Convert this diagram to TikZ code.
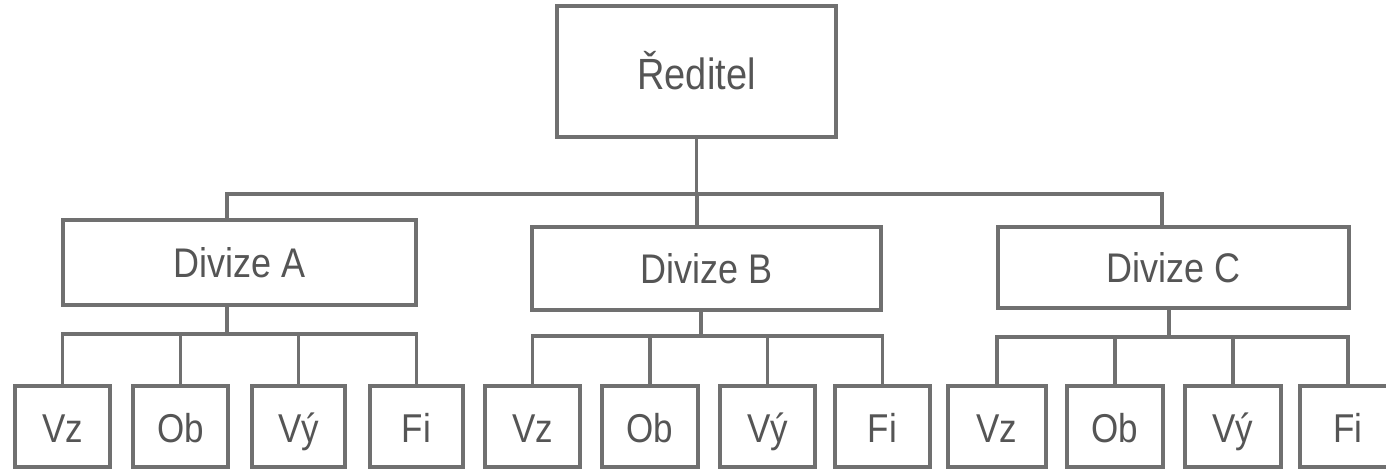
\documentclass[tikz,border=0pt]{standalone}
\usepackage{fontspec}
\setmainfont{Liberation Sans}
\definecolor{ln}{HTML}{707070}
\definecolor{tx}{HTML}{555555}
\newcommand{\vs}[1]{\scalebox{1}[1.15]{#1}}
\begin{document}
\begin{tikzpicture}[x=1pt,y=-1pt,
  box/.style={draw=ln,line width=3.5pt,rectangle,inner sep=0pt,text=tx,fill=white,text depth=0pt},
  top/.style={box,minimum width=279pt,minimum height=131pt,font=\fontsize{38}{42}\selectfont,text height=35pt},
  div/.style={box,minimum width=351pt,minimum height=83pt,font=\fontsize{36}{40}\selectfont,text height=29pt},
  leaf/.style={box,minimum width=95pt,minimum height=81pt,font=\fontsize{35}{40}\selectfont,text height=31pt},
  conn/.style={draw=ln,line width=3.5pt}]
\fill[white] (0,0) rectangle (1386,472);
\useasboundingbox (0,0) rectangle (1386,472);
% nodes
\node[top] (R) at (696.5,71.5) {\vs{Ředitel}};
\node[div,minimum width=353pt,minimum height=85pt] (A) at (239.5,262.5) {\vs{Divize A}};
\node[div,minimum width=349pt] (B) at (706.5,268.5) {\vs{Divize B}};
\node[div,minimum height=81pt] (C) at (1173.5,267.5) {\vs{Divize C}};
\node[leaf] (A1) at (62.5,426.5) {\vs{Vz}};
\node[leaf] (A2) at (180.5,426.5) {\vs{Ob}};
\node[leaf,minimum width=93pt] (A3) at (298.5,426.5) {\vs{Vý}};
\node[leaf,minimum width=93pt] (A4) at (416.5,426.5) {\vs{Fi}};
\node[leaf] (B1) at (532.5,426.5) {\vs{Vz}};
\node[leaf,minimum width=96pt] (B2) at (650,426.5) {\vs{Ob}};
\node[leaf] (B3) at (767.5,426.5) {\vs{Vý}};
\node[leaf] (B4) at (882.5,426.5) {\vs{Fi}};
\node[leaf,minimum width=98pt] (C1) at (997,426.5) {\vs{Vz}};
\node[leaf,minimum width=96pt] (C2) at (1115,426.5) {\vs{Ob}};
\node[leaf,minimum width=96pt] (C3) at (1233,426.5) {\vs{Vý}};
\node[leaf,minimum width=96pt] (C4) at (1348,426.5) {\vs{Fi}};
% coordinates
\coordinate (bus) at (696.5,194);
\coordinate (busL) at (227,194);
\coordinate (busB) at (697,194);
\coordinate (busR) at (1162,194);
\coordinate (sA) at (227,334);
\coordinate (sB) at (701,336);
\coordinate (sC) at (1169,337);
% connectors
\draw[conn] (R.south) -- (bus);
\draw[conn] (busL |- A.north) -- (busL) -- (busR) -- (busR |- C.north);
\draw[conn] (busB) -- (busB |- B.north);
\draw[conn] (sA |- A.south) -- (sA);
\draw[conn] (sB |- B.south) -- (sB);
\draw[conn] (sC |- C.south) -- (sC);
\draw[conn] (A1.north) -- (A1 |- sA) -- (A4 |- sA) -- (A4.north);
\draw[conn] (A2.north) -- (A2 |- sA);
\draw[conn] (A3.north) -- (A3 |- sA);
\draw[conn] (B1.north) -- (B1 |- sB) -- (B4 |- sB) -- (B4.north);
\draw[conn] (B2.north) -- (B2 |- sB);
\draw[conn] (B3.north) -- (B3 |- sB);
\draw[conn] (C1.north) -- (C1 |- sC) -- (C4 |- sC) -- (C4.north);
\draw[conn] (C2.north) -- (C2 |- sC);
\draw[conn] (C3.north) -- (C3 |- sC);
\end{tikzpicture}
\end{document}
